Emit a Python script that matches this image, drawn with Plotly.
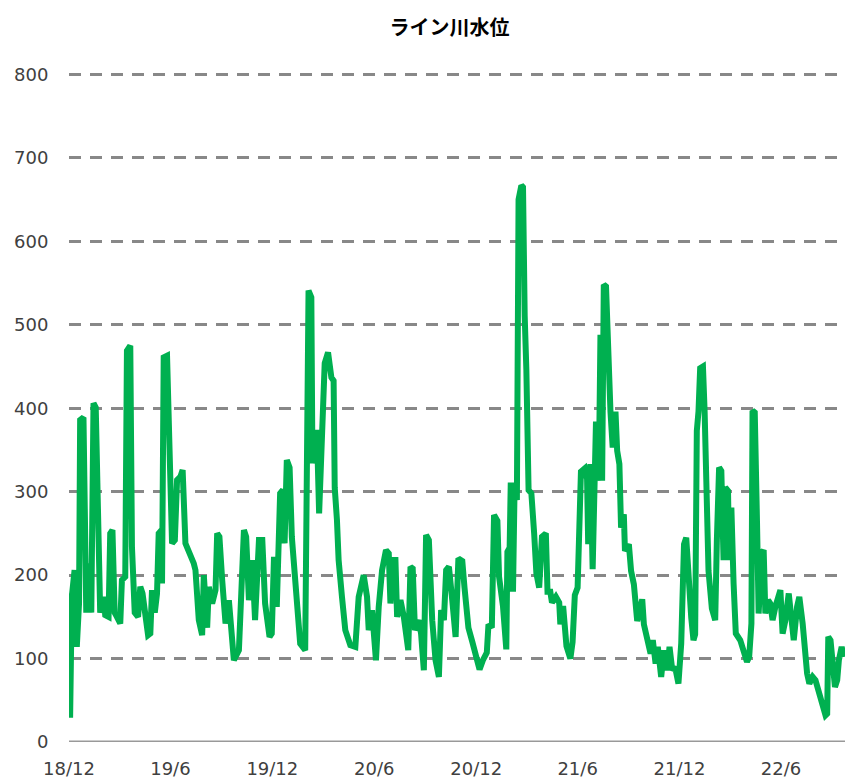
import pandas as pd
import plotly.graph_objects as go

start_date = "2018-12-01"
end_date = "2022-09-24"

# days since start_date
days = [0, 2, 5, 10, 14, 18, 20, 26, 31, 35, 40, 44, 48, 53, 56, 62, 65, 71, 74, 78,
        82, 86, 92, 95, 101, 104, 110, 113, 118, 124, 128, 132, 137, 142, 146, 149, 154, 158, 161, 166,
        167, 170, 176, 185, 190, 194, 200, 204, 209, 215, 224, 227, 233, 239, 242, 248, 251, 257, 263, 266,
        270, 275, 281, 287, 293, 296, 305, 311, 314, 318, 323, 329, 334, 341, 347, 352, 360, 364, 368, 373,
        379, 384, 387, 391, 396, 400, 409, 415, 424, 427, 430, 435, 437, 442, 445, 449, 454, 459, 465, 471,
        475, 477, 481, 484, 490, 496, 505, 514, 520, 529, 535, 538, 544, 551, 556, 562, 569, 574, 577, 581,
        586, 589, 595, 601, 609, 613, 617, 621, 628, 632, 637, 641, 646, 652, 658, 664, 668, 673, 677, 682,
        688, 694, 699, 706, 710, 717, 724, 730, 737, 743, 750, 753, 759, 763, 769, 772, 779, 785, 787, 791,
        793, 797, 800, 804, 805, 807, 812, 815, 818, 821, 825, 830, 835, 839, 844, 849, 856, 859, 864, 867,
        874, 880, 882, 887, 893, 900, 904, 908, 913, 915, 917, 919, 926, 930, 932, 936, 940, 944, 946, 951,
        954, 957, 960, 964, 968, 972, 976, 981, 984, 988, 991, 996, 998, 1005, 1009, 1014, 1020, 1026, 1029, 1032,
        1038, 1044, 1048, 1053, 1057, 1063, 1068, 1074, 1078, 1083, 1088, 1094, 1099, 1104, 1108, 1113, 1117, 1121, 1124, 1127,
        1130, 1133, 1138, 1141, 1144, 1148, 1154, 1160, 1163, 1167, 1171, 1175, 1178, 1183, 1185, 1189, 1193, 1197, 1205, 1211,
        1217, 1221, 1225, 1227, 1231, 1235, 1238, 1243, 1247, 1250, 1255, 1259, 1263, 1268, 1274, 1277, 1281, 1286, 1292, 1297,
        1301, 1307, 1311, 1317, 1321, 1325, 1329, 1335, 1340, 1346, 1352, 1358, 1361, 1363, 1367, 1371, 1375, 1379, 1382, 1387,
        1391]

level = [178, 29, 174, 206, 114, 166, 386, 389, 155, 214, 155, 406, 401, 234, 155, 174, 152, 150, 250, 254,
         155, 150, 142, 194, 198, 469, 475, 234, 155, 150, 186, 178, 150, 128, 130, 182, 155, 178, 250, 254,
         190, 461, 463, 238, 242, 314, 318, 326, 238, 230, 214, 206, 146, 128, 200, 137, 186, 166, 182, 250,
         246, 194, 142, 170, 107, 98, 110, 206, 254, 246, 170, 218, 146, 242, 242, 166, 126, 130, 222, 162,
         298, 302, 238, 338, 329, 246, 174, 118, 110, 326, 541, 533, 334, 358, 374, 274, 366, 454, 467, 437,
         433, 305, 266, 218, 174, 134, 116, 114, 174, 200, 174, 134, 158, 98, 162, 206, 230, 226, 166, 218,
         218, 150, 170, 150, 110, 210, 208, 134, 146, 130, 86, 248, 242, 146, 98, 78, 158, 146, 206, 210,
         170, 126, 220, 217, 185, 137, 120, 107, 87, 98, 107, 141, 137, 272, 265, 198, 163, 111, 228, 233,
         311, 180, 311, 290, 637, 650, 667, 665, 511, 446, 302, 298, 250, 202, 185, 246, 250, 180, 180, 167,
         174, 167, 141, 163, 115, 100, 120, 176, 185, 254, 259, 324, 328, 315, 237, 333, 207, 309, 384, 313,
         488, 313, 548, 546, 444, 396, 353, 396, 349, 333, 257, 273, 229, 237, 205, 189, 145, 165, 171, 141,
         125, 106, 122, 94, 114, 78, 110, 86, 114, 86, 90, 70, 118, 237, 245, 185, 149, 122, 129, 373,
         396, 448, 450, 396, 325, 205, 160, 146, 242, 329, 325, 218, 305, 301, 218, 281, 190, 130, 122, 106,
         96, 102, 142, 397, 395, 265, 154, 226, 230, 154, 170, 166, 146, 162, 178, 182, 130, 146, 178, 138,
         122, 162, 174, 142, 110, 82, 70, 78, 74, 58, 42, 32, 34, 126, 122, 98, 66, 74, 98, 114,
         102]

tick_dates = ["2018-12-01", "2019-06-01", "2019-12-01", "2020-06-01", "2020-12-01",
              "2021-06-01", "2021-12-01", "2022-06-01"]
tick_labels = ["18/12", "19/6", "19/12", "20/6", "20/12", "21/6", "21/12", "22/6"]
y_ticks = [0, 100, 200, 300, 400, 500, 600, 700, 800]

dates = pd.to_datetime(start_date) + pd.to_timedelta(days, unit="D")

fig = go.Figure()
fig.add_trace(go.Scatter(
    x=dates, y=level, mode="lines",
    line=dict(color="#00B050", width=6),
    hoverinfo="skip", showlegend=False,
))

fig.update_layout(
    width=845, height=778,
    margin=dict(l=69, r=0, t=72, b=36, autoexpand=False),
    paper_bgcolor="white", plot_bgcolor="white",
    title=dict(text="<b>ライン川水位</b>", x=0.532, xanchor="center", y=0.964, yanchor="middle",
               font=dict(family="Noto Sans CJK JP", size=20, color="#000000")),
    font=dict(family="DejaVu Sans", size=16, color="#404040"),
    xaxis=dict(
        range=[start_date, end_date], automargin=False,
        tickmode="array", tickvals=tick_dates, ticktext=tick_labels,
        showgrid=False, showline=False, zeroline=False,
        ticks="outside", ticklen=10, tickcolor="rgba(0,0,0,0)",
        tickfont=dict(family="DejaVu Sans", size=18, color="#404040"),
    ),
    yaxis=dict(
        range=[0, 803], tickmode="array", tickvals=y_ticks, automargin=False,
        showgrid=True, gridcolor="#888888", gridwidth=2.5, griddash="12px,9px",
        zeroline=False, showline=False,
        ticks="outside", ticklen=16, tickcolor="rgba(0,0,0,0)",
        tickfont=dict(family="DejaVu Sans", size=18, color="#404040"),
    ),
    shapes=[dict(type="line", xref="paper", yref="y", x0=0, x1=1, y0=0, y1=0,
                 line=dict(color="#999999", width=3), layer="below")],
)

fig.write_html("out.html", config={"displayModeBar": False},
               post_script="document.body.style.margin='0';")
